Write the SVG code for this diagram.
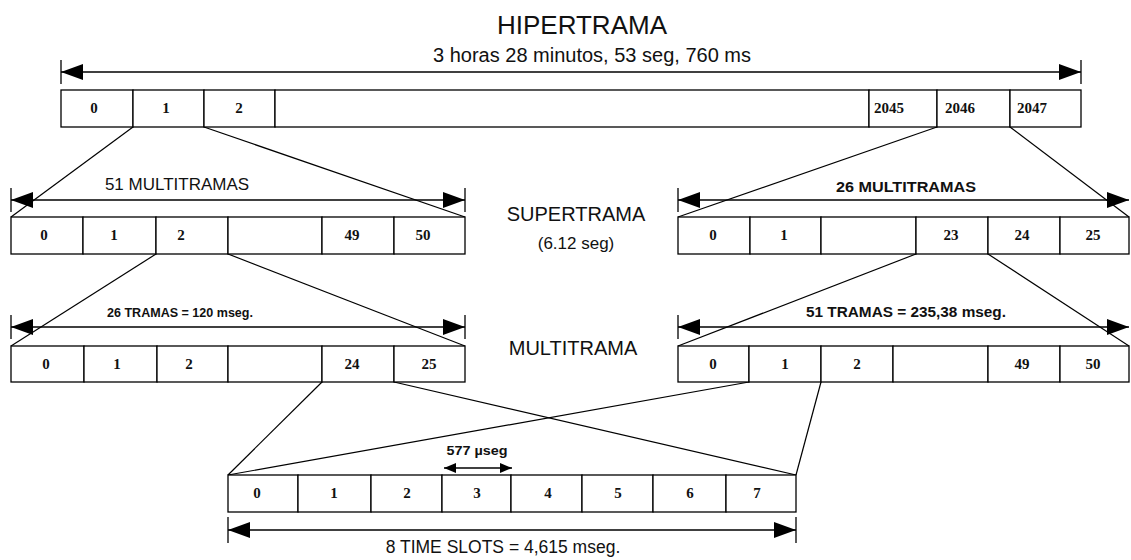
<svg xmlns="http://www.w3.org/2000/svg" width="1131" height="560" viewBox="0 0 1131 560">
<defs>
<style>
.c{fill:#fff;stroke:#000;stroke-width:1.3}
.n{font-family:"Liberation Serif",serif;font-size:15px;font-weight:bold;text-anchor:middle;fill:#111}
.lab{font-family:"Liberation Sans",Arial,sans-serif;fill:#111;text-anchor:middle}
.nb{font-family:"Liberation Sans",Arial,sans-serif;font-weight:bold;fill:#111;text-anchor:middle}
.dim{stroke:#000;stroke-width:1.4;fill:none;marker-start:url(#ah);marker-end:url(#ah)}
.tick{stroke:#000;stroke-width:1.3}
.fan{stroke:#000;stroke-width:1.2;fill:none}
</style>
<marker id="ah" markerUnits="userSpaceOnUse" markerWidth="22" markerHeight="16" refX="22" refY="8" orient="auto-start-reverse" viewBox="0 0 22 16">
<path d="M0,0 L22,8 L0,16 Z" fill="#000"/>
</marker>
<marker id="sm" markerUnits="userSpaceOnUse" markerWidth="12" markerHeight="10" refX="12" refY="5" orient="auto-start-reverse" viewBox="0 0 12 10">
<path d="M0,0 L12,5 L0,10 Z" fill="#000"/>
</marker>
</defs>
<rect width="1131" height="560" fill="#fff"/>

<g id="titles">
<text class="lab" x="582" y="34" font-size="26">HIPERTRAMA</text>
<text class="lab" x="592" y="62" font-size="20">3 horas 28 minutos, 53 seg, 760 ms</text>
<text class="lab" x="576" y="221" font-size="20">SUPERTRAMA</text>
<text class="lab" x="576" y="249" font-size="17">(6.12 seg)</text>
<text class="lab" x="573" y="355" font-size="20">MULTITRAMA</text>
</g>

<g id="connectors">
<line class="fan" x1="133" y1="127" x2="11" y2="217"/>
<line class="fan" x1="204" y1="127" x2="465" y2="217"/>
<line class="fan" x1="937" y1="127" x2="678" y2="217"/>
<line class="fan" x1="1010" y1="127" x2="1129" y2="217"/>
<line class="fan" x1="156" y1="254" x2="11" y2="346"/>
<line class="fan" x1="228" y1="254" x2="465" y2="346"/>
<line class="fan" x1="916" y1="254" x2="678" y2="346"/>
<line class="fan" x1="988" y1="254" x2="1129" y2="346"/>
<line class="fan" x1="322" y1="382" x2="228" y2="475"/>
<line class="fan" x1="394" y1="382" x2="796" y2="475"/>
<line class="fan" x1="749" y1="382" x2="228" y2="475"/>
<line class="fan" x1="821" y1="382" x2="796" y2="475"/>
</g>

<g id="dimensions">
<line class="dim" x1="61" y1="72" x2="1081" y2="72"/>
<line class="tick" x1="61" y1="60" x2="61" y2="84"/>
<line class="tick" x1="1081" y1="60" x2="1081" y2="84"/>

<line class="dim" x1="11" y1="200" x2="465" y2="200"/>
<line class="tick" x1="11" y1="188" x2="11" y2="212"/>
<line class="tick" x1="465" y1="188" x2="465" y2="212"/>
<text class="lab" x="177" y="190" font-size="17">51 MULTITRAMAS</text>

<line class="dim" x1="678" y1="200" x2="1129" y2="200"/>
<line class="tick" x1="678" y1="188" x2="678" y2="212"/>
<text class="nb" x="906" y="192" font-size="14" textLength="140" lengthAdjust="spacingAndGlyphs">26 MULTITRAMAS</text>

<line class="dim" x1="11" y1="327" x2="465" y2="327"/>
<line class="tick" x1="11" y1="315" x2="11" y2="339"/>
<line class="tick" x1="465" y1="315" x2="465" y2="339"/>
<text class="nb" x="180" y="317" font-size="12" textLength="146" lengthAdjust="spacingAndGlyphs">26 TRAMAS = 120 mseg.</text>

<line class="dim" x1="678" y1="327" x2="1129" y2="327"/>
<line class="tick" x1="678" y1="315" x2="678" y2="339"/>
<text class="nb" x="906" y="317" font-size="14" textLength="200" lengthAdjust="spacingAndGlyphs">51 TRAMAS = 235,38 mseg.</text>

<line x1="444" y1="468" x2="512" y2="468" stroke="#000" stroke-width="1.3" marker-start="url(#sm)" marker-end="url(#sm)"/>
<text class="nb" x="477" y="455" font-size="13" textLength="61" lengthAdjust="spacingAndGlyphs">577 µseg</text>

<line class="dim" x1="228" y1="530" x2="796" y2="530"/>
<line class="tick" x1="228" y1="517" x2="228" y2="543"/>
<line class="tick" x1="796" y1="517" x2="796" y2="543"/>
<text class="lab" x="503" y="553" font-size="17.5">8 TIME SLOTS = 4,615 mseg.</text>
</g>

<g id="hipertrama">
<rect class="c" x="61" y="90" width="72" height="37"/>
<rect class="c" x="133" y="90" width="71" height="37"/>
<rect class="c" x="204" y="90" width="71" height="37"/>
<rect class="c" x="275" y="90" width="594" height="37"/>
<rect class="c" x="869" y="90" width="68" height="37"/>
<rect class="c" x="937" y="90" width="73" height="37"/>
<rect class="c" x="1010" y="90" width="71" height="37"/>
<text class="n" x="94" y="113">0</text>
<text class="n" x="166" y="113">1</text>
<text class="n" x="239" y="113">2</text>
<text class="n" x="889" y="113">2045</text>
<text class="n" x="960" y="113">2046</text>
<text class="n" x="1032" y="113">2047</text>
</g>

<g id="supertrama-51">
<rect class="c" x="11" y="217" width="72" height="37"/>
<rect class="c" x="83" y="217" width="73" height="37"/>
<rect class="c" x="156" y="217" width="72" height="37"/>
<rect class="c" x="228" y="217" width="94" height="37"/>
<rect class="c" x="322" y="217" width="72" height="37"/>
<rect class="c" x="394" y="217" width="71" height="37"/>
<text class="n" x="44" y="240">0</text>
<text class="n" x="114" y="240">1</text>
<text class="n" x="181" y="240">2</text>
<text class="n" x="352" y="240">49</text>
<text class="n" x="423" y="240">50</text>
</g>

<g id="supertrama-26">
<rect class="c" x="678" y="217" width="72" height="37"/>
<rect class="c" x="750" y="217" width="71" height="37"/>
<rect class="c" x="821" y="217" width="95" height="37"/>
<rect class="c" x="916" y="217" width="72" height="37"/>
<rect class="c" x="988" y="217" width="72" height="37"/>
<rect class="c" x="1060" y="217" width="69" height="37"/>
<text class="n" x="713" y="240">0</text>
<text class="n" x="784" y="240">1</text>
<text class="n" x="951" y="240">23</text>
<text class="n" x="1022" y="240">24</text>
<text class="n" x="1093" y="240">25</text>
</g>

<g id="multitrama-26">
<rect class="c" x="11" y="346" width="73" height="36"/>
<rect class="c" x="84" y="346" width="73" height="36"/>
<rect class="c" x="157" y="346" width="71" height="36"/>
<rect class="c" x="228" y="346" width="94" height="36"/>
<rect class="c" x="322" y="346" width="72" height="36"/>
<rect class="c" x="394" y="346" width="71" height="36"/>
<text class="n" x="46" y="369">0</text>
<text class="n" x="117" y="369">1</text>
<text class="n" x="189" y="369">2</text>
<text class="n" x="352" y="369">24</text>
<text class="n" x="429" y="369">25</text>
</g>

<g id="multitrama-51">
<rect class="c" x="678" y="346" width="71" height="36"/>
<rect class="c" x="749" y="346" width="72" height="36"/>
<rect class="c" x="821" y="346" width="72" height="36"/>
<rect class="c" x="893" y="346" width="95" height="36"/>
<rect class="c" x="988" y="346" width="72" height="36"/>
<rect class="c" x="1060" y="346" width="69" height="36"/>
<text class="n" x="713" y="369">0</text>
<text class="n" x="785" y="369">1</text>
<text class="n" x="857" y="369">2</text>
<text class="n" x="1022" y="369">49</text>
<text class="n" x="1093" y="369">50</text>
</g>

<g id="trama">
<rect class="c" x="228" y="475" width="70" height="37"/>
<rect class="c" x="298" y="475" width="73" height="37"/>
<rect class="c" x="371" y="475" width="71" height="37"/>
<rect class="c" x="442" y="475" width="69" height="37"/>
<rect class="c" x="511" y="475" width="71" height="37"/>
<rect class="c" x="582" y="475" width="71" height="37"/>
<rect class="c" x="653" y="475" width="73" height="37"/>
<rect class="c" x="726" y="475" width="70" height="37"/>
<text class="n" x="257" y="498">0</text>
<text class="n" x="334" y="498">1</text>
<text class="n" x="407" y="498">2</text>
<text class="n" x="477" y="498">3</text>
<text class="n" x="548" y="498">4</text>
<text class="n" x="618" y="498">5</text>
<text class="n" x="690" y="498">6</text>
<text class="n" x="757" y="498">7</text>
</g>
</svg>
